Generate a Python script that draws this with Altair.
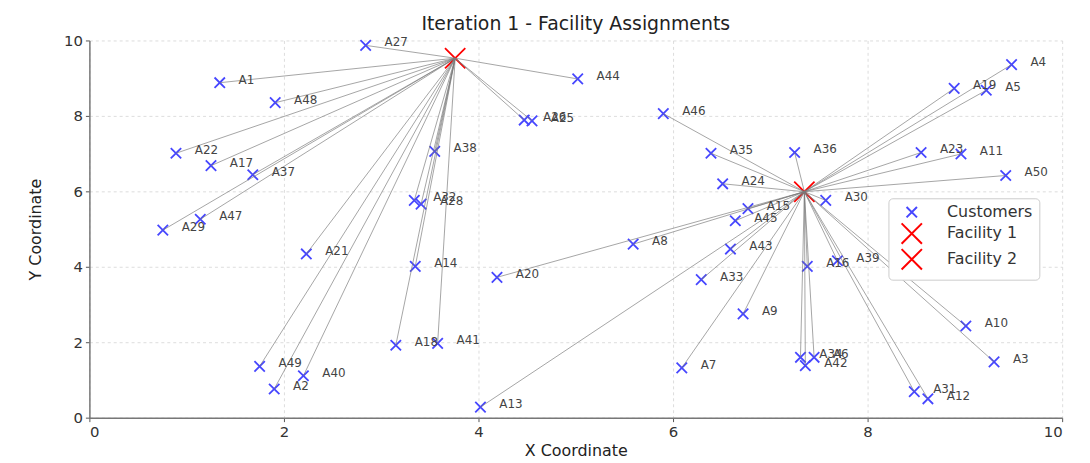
import altair as alt
import pandas as pd

# ---- data ----
names = [f"A{i}" for i in range(1, 51)]
cust_x = [1.34, 1.90, 9.30, 9.48, 9.22, 7.45, 6.09, 5.59, 6.72, 9.01,
          8.96, 8.62, 4.02, 3.35, 6.77, 7.38, 1.25, 3.15, 8.89, 4.19,
          2.23, 0.89, 8.55, 6.51, 4.55, 4.47, 2.84, 3.41, 0.755, 7.57,
          8.48, 3.34, 6.29, 7.31, 6.39, 7.25, 1.68, 3.55, 7.69, 2.20,
          3.58, 7.36, 6.59, 5.02, 6.64, 5.90, 1.14, 1.91, 1.75, 9.42]
cust_y = [8.88, 0.76, 1.48, 9.36, 8.68, 1.60, 1.32, 4.60, 2.75, 2.43,
          6.99, 0.50, 0.28, 4.01, 5.54, 4.01, 6.68, 1.92, 8.73, 3.72,
          4.34, 7.01, 7.03, 6.20, 7.87, 7.89, 9.87, 5.66, 4.97, 5.76,
          0.69, 5.76, 3.66, 1.60, 7.01, 7.03, 6.44, 7.06, 4.16, 1.11,
          1.97, 1.38, 4.47, 8.98, 5.22, 8.06, 5.26, 8.35, 1.36, 6.42]
assigned = [1, 1, 2, 2, 2, 2, 2, 2, 2, 2,
            2, 2, 2, 1, 2, 2, 1, 1, 2, 2,
            1, 1, 2, 2, 1, 1, 1, 1, 1, 2,
            2, 1, 2, 2, 2, 2, 1, 1, 2, 1,
            1, 2, 2, 1, 2, 2, 1, 1, 1, 2]
fac_names = ["Facility 1", "Facility 2"]
fac_x = [3.76, 7.35]
fac_y = [9.53, 5.99]

legend_items = ["Customers", "Facility 1", "Facility 2"]
legend_colors = ["#4646ff", "#ff0000", "#ff0000"]
x_ticks = [0, 2, 4, 6, 8, 10]
y_ticks = [0, 2, 4, 6, 8, 10]

# ---- tables ----
points = pd.DataFrame({
    "x": cust_x + fac_x,
    "y": cust_y + fac_y,
    "type": ["Customers"] * len(cust_x) + fac_names,
    "name": names + fac_names,
})
customers = pd.DataFrame({"x": cust_x, "y": cust_y, "name": names})
links = pd.DataFrame({
    "x": cust_x,
    "y": cust_y,
    "fx": [fac_x[a - 1] for a in assigned],
    "fy": [fac_y[a - 1] for a in assigned],
})

xs = alt.Scale(domain=[0, 10], nice=False)
ys = alt.Scale(domain=[0, 10], nice=False)
XPATH = "M-1,-1L1,1M-1,1L1,-1"

x_axis = alt.Axis(title="X Coordinate", values=x_ticks, format="d")
y_axis = alt.Axis(title="Y Coordinate", values=y_ticks, format="d")

pts = alt.Chart(points).mark_point(filled=False, strokeWidth=1.8, opacity=1).encode(
    x=alt.X("x:Q", scale=xs, axis=x_axis),
    y=alt.Y("y:Q", scale=ys, axis=y_axis),
    color=alt.Color("type:N",
                    scale=alt.Scale(domain=legend_items, range=legend_colors),
                    legend=alt.Legend(title=None, orient="none", legendX=805, legendY=159)),
    shape=alt.Shape("type:N",
                    scale=alt.Scale(domain=legend_items, range=[XPATH, XPATH, XPATH])),
    size=alt.Size("type:N",
                  scale=alt.Scale(type="ordinal", domain=legend_items, range=[110, 420, 420])),
)

lines = alt.Chart(links).mark_rule(color="#7a7a7a", strokeWidth=0.9, opacity=0.75).encode(
    x=alt.X("x:Q", scale=xs),
    y=alt.Y("y:Q", scale=ys),
    x2="fx:Q",
    y2="fy:Q",
)

labels = alt.Chart(customers).mark_text(
    align="left", baseline="alphabetic", dx=19, dy=1,
    font="DejaVu Sans", fontSize=12, color="#444444",
).encode(
    x=alt.X("x:Q", scale=xs),
    y=alt.Y("y:Q", scale=ys),
    text="name:N",
)

chart = alt.layer(pts, lines, labels).properties(
    width=980,
    height=380,
    autosize=alt.AutoSizeParams(type="none"),
    padding={"left": 82, "top": 31, "right": 20, "bottom": 46},
    title=alt.TitleParams("Iteration 1 - Facility Assignments", fontSize=19,
                          font="DejaVu Sans", fontWeight="normal", color="#222222",
                          anchor="middle", offset=0),
).configure_view(stroke="transparent").configure_axis(
    labelFont="DejaVu Sans", titleFont="DejaVu Sans",
    labelFontSize=15, titleFontSize=16, titleFontWeight="normal",
    labelColor="#333333", titleColor="#222222",
    domainColor="#777777", domainWidth=1.5,
    tickColor="#555555", tickSize=4,
    gridColor="#d4d4d4", gridDash=[3, 3], gridWidth=0.8,
    labelPadding=3,
).configure_axisX(titlePadding=3).configure_axisY(titlePadding=20).configure_legend(
    strokeColor="#cccccc", fillColor="white", padding=6, cornerRadius=4,
    labelFont="DejaVu Sans", labelFontSize=16, labelColor="#333333",
    symbolStrokeWidth=2, rowPadding=-4, labelOffset=24, symbolOffset=6,
)

chart.save("out.html", embed_options={"renderer": "svg", "actions": False})
